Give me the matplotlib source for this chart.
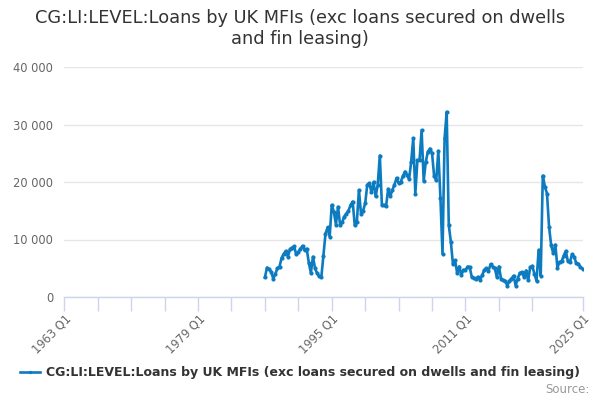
import matplotlib
matplotlib.use("Agg")
import matplotlib.pyplot as plt
from matplotlib.ticker import FuncFormatter, FixedLocator

start_year = 1987
values = [
    3400, 5100, 4800, 4400, 3200, 4000, 5000, 5300, 6800, 7500, 8000, 7000,
    8300, 8600, 8800, 7400, 7800, 8400, 8900, 8100, 8400, 6000, 4200, 7000,
    5000, 4100, 3600, 3400, 7200, 11000, 12100, 10500, 16000,
    14800, 12600, 15700, 12500, 13000, 14000, 14500, 15000, 16000, 16600, 12500,
    13000, 18600, 14500, 15000, 16300, 19500, 19800, 18200, 20000, 17500, 19500,
    24600, 16000, 16000, 15800, 18800, 17500, 18600, 19500, 20700, 19800, 20000,
    21000, 21800, 21200,
    20500, 23500, 27600, 18000, 23800, 23800, 29000, 20200, 23500, 25300, 25800,
    25000, 21000, 20300, 25400, 17300, 7500, 27600, 32200, 12500, 9600, 5700,
    6400, 4200, 5300, 3800, 4700, 4700, 5300, 5200, 3500, 3300, 3200, 3500,
    3000, 3800, 4700, 5000, 4500, 5700, 5300, 5000, 3500, 5300, 3200, 2900,
    2800, 2000, 2800, 3200, 3700, 2000, 3200, 4200, 4300, 3500, 4600, 2900,
    5200, 5400, 4000, 2800, 8200, 3700, 21100, 19200, 18000, 12200, 9000, 7600,
    9100, 5100, 6100, 6200, 7200, 8000, 6200, 6100, 7400, 7000, 5900, 5800,
    5200, 4900,
]
x_vals = [start_year + i / 4 for i in range(len(values))]

tick_years = [1963, 1967, 1971, 1975, 1979, 1983, 1987, 1991, 1995, 1999,
              2003, 2007, 2011, 2015, 2019, 2025]
label_years = [1963, 1979, 1995, 2011, 2025]
y_ticks = [0, 10000, 20000, 30000, 40000]

title = "CG:LI:LEVEL:Loans by UK MFIs (exc loans secured on dwells\nand fin leasing)"
series_name = "CG:LI:LEVEL:Loans by UK MFIs (exc loans secured on dwells and fin leasing)"

plt.rcParams['font.family'] = ['DejaVu Sans']
fig = plt.figure(figsize=(6, 4), dpi=100)
ax = fig.add_axes([64.3 / 600, 103 / 400, (582.5 - 64.3) / 600, 230 / 400])

color = '#0c7bc0'
line, = ax.plot(x_vals, values, color=color, lw=1.9, marker='o', ms=3.0,
                markeredgewidth=0, zorder=3, label=series_name)

ax.set_xlim(1963, 2025)
ax.set_ylim(0, 40000)
ax.yaxis.set_major_locator(FixedLocator(y_ticks))
ax.yaxis.set_major_formatter(FuncFormatter(lambda v, p: f"{int(v):,}".replace(",", " ")))
ax.grid(axis='y', color='#e6e6e6', lw=1)
ax.set_axisbelow(True)
for s in ['top', 'right', 'left']:
    ax.spines[s].set_visible(False)
ax.spines['bottom'].set_color('#ccd6eb')
ax.spines['bottom'].set_linewidth(1)

ax.xaxis.set_major_locator(FixedLocator(tick_years))
ax.set_xticklabels([f"{y} Q1" if y in label_years else "" for y in tick_years])
ax.tick_params(axis='x', length=10, color='#ccd6eb', width=1, labelsize=8.3,
               labelcolor='#666666', pad=1)
ax.tick_params(axis='y', length=0, labelsize=8.3, labelcolor='#666666', pad=8)
for lbl in ax.get_xticklabels():
    lbl.set_rotation(45)
    lbl.set_ha('right')
    lbl.set_rotation_mode('anchor')

fig.text(0.5, 0.978, title, ha='center', va='top', fontsize=12.8,
         color='#333333', linespacing=1.2)

leg = fig.legend(handles=[line], loc='center', bbox_to_anchor=(0.5, 0.068),
                 frameon=False, fontsize=9, handlelength=1.6, handletextpad=0.5,
                 markerscale=0.8)
for t in leg.get_texts():
    t.set_color('#333333')
    t.set_fontweight('bold')

fig.text(0.983, 0.027, "Source:", ha='right', va='center', fontsize=8.5, color='#999999')

fig.savefig('out.png', dpi=100)
